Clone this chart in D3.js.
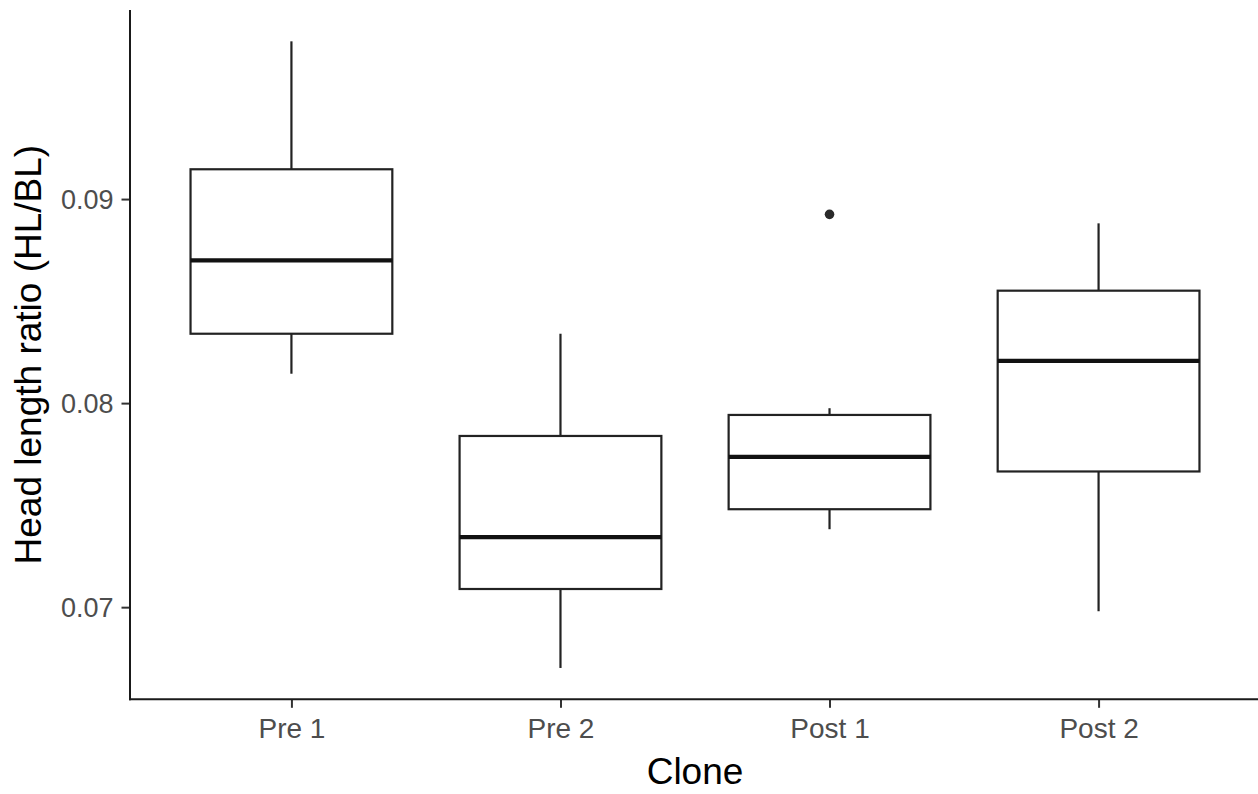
<!DOCTYPE html>
<html>
<head>
<meta charset="utf-8">
<script src="https://cdn.jsdelivr.net/npm/d3@7"></script>
<style>
  html, body { margin: 0; padding: 0; background: #fff; }
  svg { display: block; }
  text { font-family: "Liberation Sans", Arial, sans-serif; }
</style>
</head>
<body>
<svg id="chart" width="1258" height="794"></svg>
<script>
// ---- data ----
const categories   = ["Pre 1", "Pre 2", "Post 1", "Post 2"];
const lowerWhisker = [0.08144, 0.06702, 0.07382, 0.06980];
const q1           = [0.08340, 0.07089, 0.07480, 0.07665];
const medians      = [0.08700, 0.07343, 0.07737, 0.08207];
const q3           = [0.09146, 0.07839, 0.07942, 0.08551];
const upperWhisker = [0.09773, 0.08340, 0.07975, 0.08881];
const outliers     = [[], [], [0.08925], []];
const yTicks       = [0.07, 0.08, 0.09];
const xTitle = "Clone";
const yTitle = "Head length ratio (HL/BL)";

// ---- layout ----
const W = 1258, H = 794;
const panel = { left: 130, right: 1260, top: 10, bottom: 699.3 };
const svg = d3.select("#chart");

const x = d3.scalePoint().domain(categories).range([panel.left, panel.right]).padding(0.6);
const boxW = x.step() * 0.75;

const allVals = lowerWhisker.concat(upperWhisker, outliers.flat());
const lo = d3.min(allVals), hi = d3.max(allVals), span = hi - lo;
const y = d3.scaleLinear().domain([lo - 0.05 * span, hi + 0.05 * span]).range([panel.bottom, panel.top]);

const lineCol = "#222222";
const g = svg.append("g");

categories.forEach((c, i) => {
  const cx = x(c);
  // whiskers
  g.append("line").attr("x1", cx).attr("x2", cx)
    .attr("y1", y(upperWhisker[i])).attr("y2", y(q3[i]))
    .attr("stroke", lineCol).attr("stroke-width", 2.2);
  g.append("line").attr("x1", cx).attr("x2", cx)
    .attr("y1", y(q1[i])).attr("y2", y(lowerWhisker[i]))
    .attr("stroke", lineCol).attr("stroke-width", 2.2);
  // box
  g.append("rect").attr("x", cx - boxW / 2).attr("width", boxW)
    .attr("y", y(q3[i])).attr("height", y(q1[i]) - y(q3[i]))
    .attr("fill", "#fff").attr("stroke", lineCol).attr("stroke-width", 2.2);
  // median
  g.append("line").attr("x1", cx - boxW / 2).attr("x2", cx + boxW / 2)
    .attr("y1", y(medians[i])).attr("y2", y(medians[i]))
    .attr("stroke", "#111111").attr("stroke-width", 4.3);
  // outliers
  outliers[i].forEach(v => {
    g.append("circle").attr("cx", cx).attr("cy", y(v)).attr("r", 4.8)
      .attr("fill", "#2a2a2a");
  });
});

// ---- axes ----
const axisCol = "#1a1a1a";
const tickCol = "#333333";
const labelCol = "#4d4d4d";

// y axis
const yAxis = d3.axisLeft(y).tickValues(yTicks).tickFormat(d3.format(".2f")).tickSize(8.5).tickPadding(8);
const yg = svg.append("g").attr("transform", `translate(${panel.left},0)`).call(yAxis);
yg.select(".domain").remove();
yg.selectAll(".tick line").attr("stroke", tickCol).attr("stroke-width", 2);
yg.selectAll(".tick text").attr("fill", labelCol).attr("font-size", 27)
  .attr("font-family", "'Liberation Sans', Arial, sans-serif").attr("dy", "0.36em");
svg.append("line").attr("x1", panel.left).attr("x2", panel.left)
  .attr("y1", panel.top).attr("y2", panel.bottom + 1)
  .attr("stroke", axisCol).attr("stroke-width", 2);

// x axis
const xAxis = d3.axisBottom(x).tickSize(8.5).tickPadding(10);
const xg = svg.append("g").attr("transform", `translate(0,${panel.bottom})`).call(xAxis);
xg.select(".domain").remove();
xg.selectAll(".tick line").attr("stroke", tickCol).attr("stroke-width", 2);
xg.selectAll(".tick text").attr("fill", labelCol).attr("font-size", 28)
  .attr("font-family", "'Liberation Sans', Arial, sans-serif").attr("dy", "0.71em");
svg.append("line").attr("x1", panel.left - 1).attr("x2", W)
  .attr("y1", panel.bottom).attr("y2", panel.bottom)
  .attr("stroke", axisCol).attr("stroke-width", 2);

// titles
svg.append("text").attr("x", (panel.left + panel.right) / 2).attr("y", 784)
  .attr("text-anchor", "middle").attr("font-size", 37).attr("fill", "#000")
  .text(xTitle);
svg.append("text")
  .attr("transform", `translate(41,${(panel.top + panel.bottom) / 2}) rotate(-90)`)
  .attr("text-anchor", "middle").attr("font-size", 37).attr("fill", "#000")
  .text(yTitle);
</script>
</body>
</html>
